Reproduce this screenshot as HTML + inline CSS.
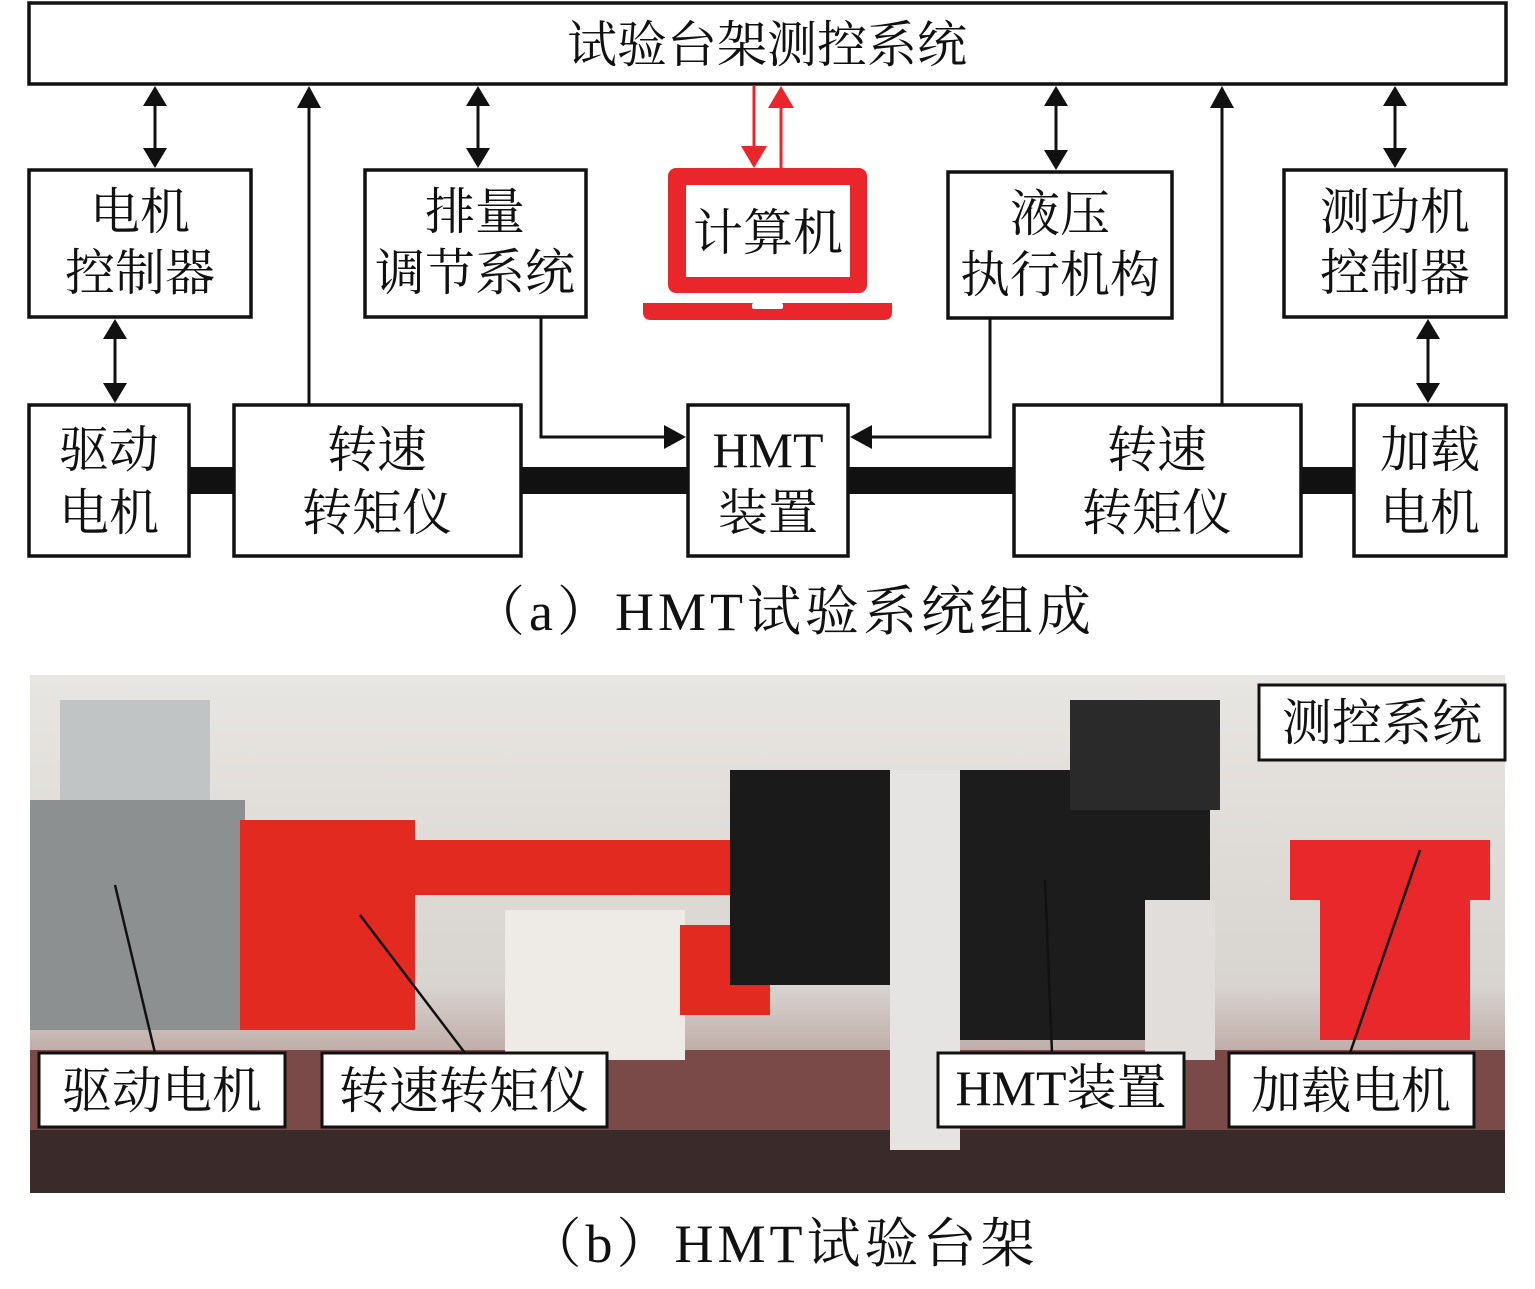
<!DOCTYPE html>
<html><head><meta charset="utf-8"><style>
body{margin:0;background:#fff}
svg text{font-family:"Liberation Serif","Noto Serif CJK SC",serif;fill:#111}
</style></head><body>
<svg width="1535" height="1284" viewBox="0 0 1535 1284" xmlns="http://www.w3.org/2000/svg">
<defs>
<linearGradient id="bg" x1="0" y1="0" x2="0" y2="1"><stop offset="0" stop-color="#e8e6e2"/><stop offset="0.6" stop-color="#d8d4d0"/><stop offset="1" stop-color="#8a5a55"/></linearGradient>
</defs>
<g fill="none" stroke="#111" stroke-width="3.5">
<rect x="29" y="3" width="1477" height="81"/>
<rect x="29" y="170" width="222" height="147"/>
<rect x="365" y="170" width="221" height="147"/>
<rect x="948" y="172" width="224" height="146"/>
<rect x="1284" y="170" width="222" height="147"/>
<rect x="29" y="405" width="160" height="151"/>
<rect x="234" y="405" width="287" height="151"/>
<rect x="688" y="405" width="160" height="151"/>
<rect x="1014" y="405" width="287" height="151"/>
<rect x="1354" y="405" width="152" height="151"/>
</g>
<g fill="#111">
<rect x="189" y="467" width="45" height="27"/>
<rect x="521" y="467" width="167" height="27"/>
<rect x="848" y="467" width="166" height="27"/>
<rect x="1301" y="467" width="53" height="27"/>
</g>
<g stroke="#111" stroke-width="3" fill="none">
<line x1="155" y1="104" x2="155" y2="150"/>
<line x1="478" y1="104" x2="478" y2="150"/>
<line x1="1056" y1="104" x2="1056" y2="152"/>
<line x1="1395" y1="104" x2="1395" y2="150"/>
<line x1="115" y1="337" x2="115" y2="385"/>
<line x1="1428" y1="337" x2="1428" y2="385"/>
<line x1="309" y1="405" x2="309" y2="104"/>
<line x1="1222" y1="405" x2="1222" y2="104"/>
<polyline points="541,317 541,437 668,437"/>
<polyline points="990,318 990,437 868,437"/>
</g>
<g fill="#111">
<path d="M155,86 l-12,20 h24z M155,168 l-12,-20 h24z"/>
<path d="M478,86 l-12,20 h24z M478,168 l-12,-20 h24z"/>
<path d="M1056,86 l-12,20 h24z M1056,170 l-12,-20 h24z"/>
<path d="M1395,86 l-12,20 h24z M1395,168 l-12,-20 h24z"/>
<path d="M115,319 l-12,20 h24z M115,403 l-12,-20 h24z"/>
<path d="M1428,319 l-12,20 h24z M1428,403 l-12,-20 h24z"/>
<path d="M309,86 l-12,22 h24z M1222,86 l-12,22 h24z"/>
<path d="M686,437 l-22,-12 v24z M850,437 l22,-12 v24z"/>
</g>
<g fill="#e8262b" stroke="#e8262b">
<line x1="754" y1="86" x2="754" y2="148" stroke-width="3"/>
<path d="M754,168 l-13,-22 h26z" stroke="none"/>
<line x1="781" y1="106" x2="781" y2="168" stroke-width="3"/>
<path d="M781,86 l-13,22 h26z" stroke="none"/>
<rect x="668" y="168" width="199" height="125" rx="8" stroke="none"/>
<path d="M643,303 H892 V312 Q892,320 884,320 H651 Q643,320 643,312Z" stroke="none"/>
</g>
<rect x="686" y="185" width="164" height="92" fill="#fff"/>
<rect x="752" y="303" width="31" height="6" fill="#fff" rx="2"/>
<g font-size="50" text-anchor="middle">
<text x="767" y="62">试验台架测控系统</text>
<text x="140" y="229">电机</text><text x="140" y="290">控制器</text>
<text x="475" y="229">排量</text><text x="475" y="290">调节系统</text>
<text x="768" y="250">计算机</text>
<text x="1060" y="231">液压</text><text x="1060" y="292">执行机构</text>
<text x="1395" y="229">测功机</text><text x="1395" y="290">控制器</text>
<text x="109" y="467">驱动</text><text x="109" y="530">电机</text>
<text x="377" y="467">转速</text><text x="377" y="530">转矩仪</text>
<text x="768" y="467">HMT</text><text x="768" y="530">装置</text>
<text x="1157" y="467">转速</text><text x="1157" y="530">转矩仪</text>
<text x="1430" y="467">加载</text><text x="1430" y="530">电机</text>
<text x="783" y="630" font-size="54" letter-spacing="4">（a）HMT试验系统组成</text>
<text x="783" y="1262" font-size="54" letter-spacing="4">（b）HMT试验台架</text>
</g>
<rect x="30" y="675" width="1475" height="518" fill="url(#bg)"/>
<rect x="30" y="1050" width="1475" height="143" fill="#7a4a48"/>
<rect x="30" y="1130" width="1475" height="63" fill="#3a2a2a"/>
<rect x="30" y="800" width="215" height="230" fill="#8c9090"/>
<rect x="60" y="700" width="150" height="100" fill="#c0c4c4"/>
<rect x="240" y="820" width="175" height="210" fill="#e22a20"/>
<rect x="410" y="840" width="330" height="55" fill="#e22a20"/>
<rect x="505" y="910" width="180" height="150" fill="#eeeae6"/>
<rect x="680" y="925" width="90" height="90" fill="#e22a20"/>
<rect x="730" y="770" width="165" height="215" fill="#1a1a1a"/>
<rect x="890" y="770" width="70" height="380" fill="#e6e4e2"/>
<rect x="960" y="770" width="250" height="270" fill="#1c1c1c"/>
<rect x="1070" y="700" width="150" height="110" fill="#2a2a2a"/>
<rect x="1145" y="900" width="70" height="160" fill="#e0ddda"/>
<rect x="1290" y="840" width="200" height="60" fill="#e8282a"/>
<rect x="1320" y="900" width="150" height="140" fill="#e8282a"/>
<g stroke="#111" stroke-width="2.5">
<line x1="115" y1="885" x2="155" y2="1053"/>
<line x1="360" y1="915" x2="465" y2="1053"/>
<line x1="1045" y1="880" x2="1052" y2="1053"/>
<line x1="1420" y1="850" x2="1350" y2="1053"/>
</g>
<g fill="#fff" stroke="#111" stroke-width="3">
<rect x="39" y="1053" width="246" height="74"/>
<rect x="322" y="1053" width="285" height="74"/>
<rect x="938" y="1053" width="246" height="74"/>
<rect x="1229" y="1053" width="245" height="74"/>
<rect x="1259" y="685" width="246" height="75"/>
</g>
<g font-size="50" text-anchor="middle">
<text x="162" y="1108">驱动电机</text>
<text x="464" y="1108">转速转矩仪</text>
<text x="1061" y="1105">HMT装置</text>
<text x="1351" y="1108">加载电机</text>
<text x="1382" y="740">测控系统</text>
</g>
</svg>
</body></html>
